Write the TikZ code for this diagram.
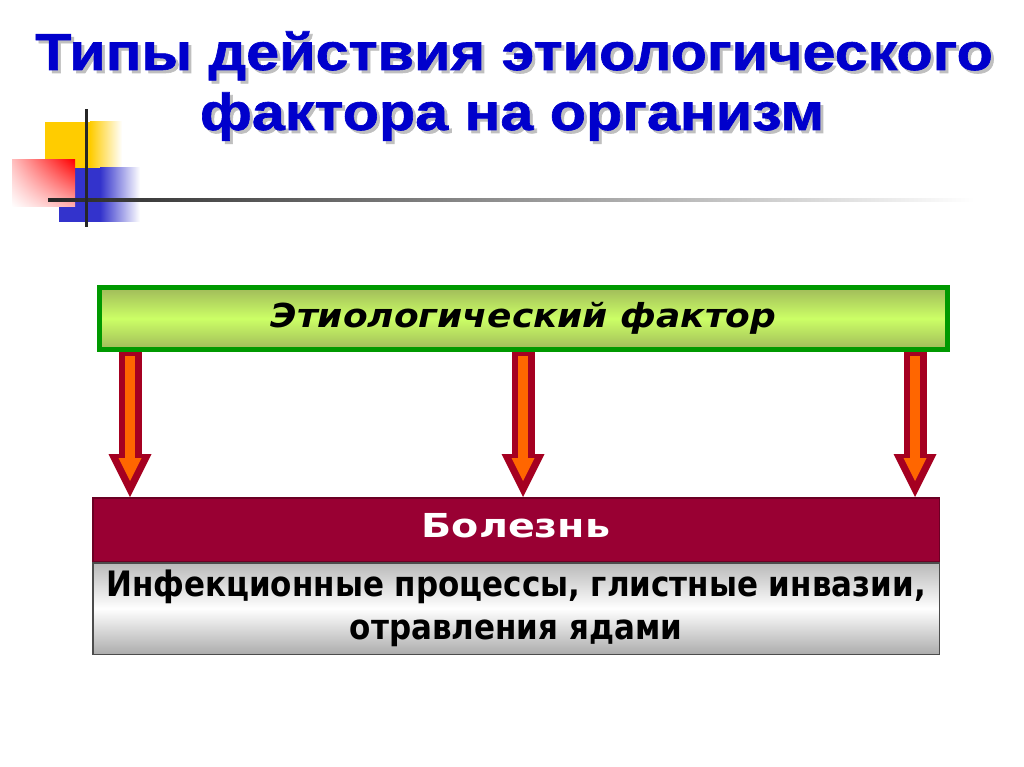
\documentclass[tikz,border=0pt]{standalone}
\usepackage{fontspec}
\usetikzlibrary{arrows.meta}
\usetikzlibrary{positioning}
\usetikzlibrary{shadings}
\newfontfamily\titlefont{Liberation Sans}[FakeStretch=1.14,FakeBold=1.2]
\newfontfamily\factorfont{DejaVu Sans}[FakeStretch=1.09]
\newfontfamily\diseasefont{DejaVu Sans}[FakeStretch=1.2]
\newfontfamily\infofont{DejaVu Sans}[FakeStretch=0.885]
\newcommand\shadowtext[1]{\makebox[0pt][l]{\hspace{3pt}\raisebox{-3pt}{\color{gray!50}#1}}#1}
\definecolor{titleblue}{RGB}{0,0,204}
\definecolor{boxgreen}{RGB}{0,153,0}
\definecolor{limegreen}{RGB}{204,255,102}
\definecolor{olivegreen}{RGB}{160,186,90}
\definecolor{arrowred}{RGB}{165,0,33}
\definecolor{arroworange}{RGB}{255,102,0}
\definecolor{diseasered}{RGB}{153,0,51}
\definecolor{decoyellow}{RGB}{255,204,0}
\definecolor{decoblue}{RGB}{51,51,204}
\tikzset{titletext/.style={anchor=base,inner sep=0,text=titleblue,
   font=\titlefont\bfseries\fontsize{52}{60}\selectfont},
 factorbox/.style={draw=boxgreen,line width=5pt,inner sep=0,
   minimum width=848pt,minimum height=62pt,
   top color=olivegreen,bottom color=olivegreen,middle color=limegreen,
   font=\factorfont\bfseries\itshape\fontsize{33}{40}\selectfont},
 diseasebox/.style={draw=diseasered!70!black,line width=1.5pt,fill=diseasered,inner sep=0,
   minimum width=846.5pt,minimum height=63.5pt,text=white,text depth=9pt,
   font=\diseasefont\bfseries\fontsize{33}{40}\selectfont},
 infobox/.style={draw=gray!60!black,line width=1.5pt,inner sep=0,align=center,
   minimum width=846.5pt,minimum height=91.5pt,
   top color=gray!55,bottom color=gray!65,middle color=white,
   font=\infofont\bfseries\fontsize{35}{43}\selectfont},
 arrowout/.style={draw=arrowred,line width=23pt,
   -{Triangle[length=43pt,width=43pt,line width=0pt]}},
 arrowin/.style={draw=arroworange,line width=10pt,shorten <=4pt,shorten >=16pt,
   -{Triangle[length=23pt,width=23pt,line width=0pt]}},
}

\begin{document}
\begin{tikzpicture}[x=1pt,y=-1pt]
  \useasboundingbox[fill=white] (0,0) rectangle (1024,767);

  % corner decoration
  \fill[decoyellow] (45,122) rectangle (90,168);
  \shade[left color=decoyellow,right color=white] (90,122) rectangle (122,168);
  \fill[decoblue] (59,168) rectangle (100,222);
  \shade[left color=decoblue,right color=white] (100,168) rectangle (140,222);
  \shade[upper right=red,upper left=red!25,lower left=white,lower right=red!30]
    (12,160) rectangle (75,207);
  \shade[left color=black!85,right color=white] (48,198.5) rectangle (975,201.5);
  \fill[black!85] (84.5,109) rectangle (87.5,227);

  % title
  \node[titletext] (title1) at (514,70) {\shadowtext{Типы действия этиологического}};
  \node[titletext] (title2) at (512,130) {\shadowtext{фактора на организм}};

  \node[factorbox] (fac) at (523.5,318.5) {Этиологический фактор};
  \node[diseasebox] (dis) at (516,529.5) {Болезнь};
  \node[infobox,below=0pt of dis] (inf)
    {Инфекционные процессы, глистные инвазии,\\отравления ядами};

  \foreach \ax[count=\i] in {130,523,915} {
    \coordinate (ar\i) at (\ax,0);
    \draw[arrowout] (ar\i |- fac.south) -- (ar\i |- dis.north);
    \draw[arrowin] (ar\i |- fac.south) -- (ar\i |- dis.north);
  }
\end{tikzpicture}
\end{document}
